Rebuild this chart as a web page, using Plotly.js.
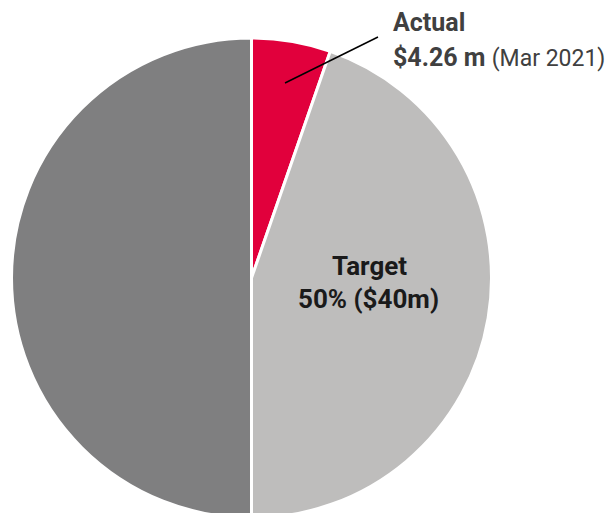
<!DOCTYPE html>
<html><head><meta charset="utf-8">
<script src="https://cdn.plot.ly/plotly-3.0.1.min.js"></script>
<style>html,body{margin:0;padding:0;overflow:hidden;background:#fff}</style>
</head><body>
<div id="chart" style="width:615px;height:520px"></div>
<script>
const labels = ["Actual", "Target remaining", "Rest"];
const values = [4.26, 35.74, 40];
const colors = ["#E1003C", "#BEBDBC", "#7F7F80"];

const W = 615, H = 520;
const px = x => x / W, py = y => 1 - y / H;

const data = [{
  type: "pie",
  labels: labels,
  values: values,
  sort: false,
  direction: "clockwise",
  rotation: 0,
  textinfo: "none",
  hoverinfo: "skip",
  marker: {colors: colors, line: {color: "#ffffff", width: 3}},
  domain: {x: [px(11.5), px(491.5)], y: [py(518), py(38)]},
  showlegend: false
}];

const layout = {
  width: W, height: H,
  margin: {l: 0, r: 0, t: 0, b: 0},
  paper_bgcolor: "#ffffff",
  font: {family: "Roboto, sans-serif"},
  showlegend: false,
  shapes: [{
    type: "line", xref: "paper", yref: "paper",
    x0: px(285), y0: py(83), x1: px(378), y1: py(37),
    line: {color: "#000000", width: 1.5}
  }],
  annotations: [
    {text: "<b>Actual</b>", xref: "paper", yref: "paper", x: px(391), y: py(23),
     xanchor: "left", yanchor: "middle", showarrow: false,
     font: {family: "Roboto", size: 25, color: "#404040"}},
    {text: "<b>$4.26 m</b> <span style='font-size:23px'>(Mar 2021)</span>", xref: "paper", yref: "paper",
     x: px(391), y: py(57), xanchor: "left", yanchor: "middle", showarrow: false,
     font: {family: "Roboto", size: 25, color: "#404040"}},
    {text: "<b>Target</b>", xref: "paper", yref: "paper", x: px(369), y: py(266),
     xanchor: "center", yanchor: "middle", showarrow: false,
     font: {family: "Roboto", size: 26, color: "#1a1a1a"}},
    {text: "<b>50% ($40m)</b>", xref: "paper", yref: "paper", x: px(368), y: py(299),
     xanchor: "center", yanchor: "middle", showarrow: false,
     font: {family: "Roboto", size: 26, color: "#1a1a1a"}}
  ]
};

Plotly.newPlot("chart", data, layout, {displayModeBar: false, staticPlot: true});
</script>
</body></html>
